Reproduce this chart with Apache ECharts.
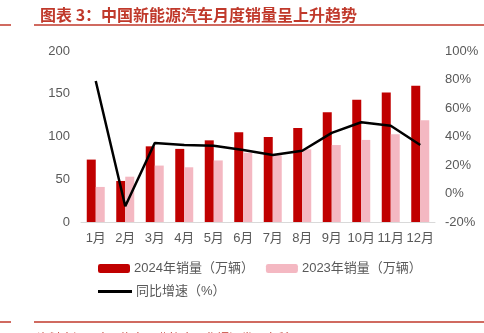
<!DOCTYPE html>
<html><head><meta charset="utf-8">
<script src="https://cdn.jsdelivr.net/npm/echarts@6/dist/echarts.min.js"></script>
<style>html,body{margin:0;padding:0;background:#fff;}#c{width:484px;height:333px;}</style>
</head><body><div id="c"></div>
<script>
const categories = ['1月','2月','3月','4月','5月','6月','7月','8月','9月','10月','11月','12月'];
const sales2024 = [73, 48, 88.5, 85.5, 95.5, 105, 99.5, 110, 128.5, 143, 151.5, 159.5];
const sales2023 = [41, 53, 66, 64, 72, 81, 78, 85, 90, 96, 102.5, 119];
const growth = [79, -9, 35.5, 34, 33.5, 30.5, 27, 30, 42.5, 50, 47.5, 34];
const leftTicks = {min: 0, max: 200, interval: 50};
const rightTicks = {min: -20, max: 100, interval: 20};

const FONT = "'Liberation Sans','Noto Sans CJK SC',sans-serif";
const chart = echarts.init(document.getElementById('c'));
const red = '#C0392B';
chart.setOption({
  animation: false,
  textStyle: {fontFamily: FONT},
  title: {
    text: '图表 3：中国新能源汽车月度销量呈上升趋势',
    left: 35, top: 2,
    textStyle: {fontSize: 16, fontWeight: 'bold', color: red, fontFamily: "'Noto Sans CJK SC',sans-serif"}
  },
  graphic: [
    {type: 'line', shape: {x1: 0, y1: 25, x2: 11, y2: 25}, style: {stroke: red, lineWidth: 1.5}},
    {type: 'line', shape: {x1: 34, y1: 25, x2: 484, y2: 25}, style: {stroke: red, lineWidth: 1.5}},
    {type: 'line', shape: {x1: 0, y1: 322, x2: 11, y2: 322}, style: {stroke: red, lineWidth: 1.5}},
    {type: 'line', shape: {x1: 34, y1: 322, x2: 484, y2: 322}, style: {stroke: red, lineWidth: 1.5}},
    {type: 'text', left: 37, top: 332, style: {text: '资料来源：中国汽车工业协会，华福证券研究所', fill: red, font: "12px 'Noto Sans CJK SC'"}}
  ],
  grid: {left: 81, right: 49, top: 51, bottom: 111},
  legend: [
    {
      data: ['2024年销量（万辆）', '2023年销量（万辆）'],
      left: 93, top: 257, itemWidth: 32, itemHeight: 9, itemGap: 12,
      textStyle: {fontSize: 13, color: '#595959', padding: [0, 0, 0, -1]}
    },
    {
      data: [{name: '同比增速（%）', icon: 'rect'}],
      left: 93, top: 280, itemWidth: 34, itemHeight: 3,
      textStyle: {fontSize: 13, color: '#595959', padding: [0, 0, 0, -1]}
    }
  ],
  xAxis: {
    type: 'category', data: categories,
    axisLine: {lineStyle: {color: '#D9D9D9', width: 1}},
    axisTick: {show: false},
    axisLabel: {color: '#595959', fontSize: 13, margin: 10, interval: 0}
  },
  yAxis: [
    {
      type: 'value', min: leftTicks.min, max: leftTicks.max, interval: leftTicks.interval,
      splitLine: {show: false}, axisLine: {show: false}, axisTick: {show: false},
      axisLabel: {color: '#595959', fontSize: 13, margin: 11}
    },
    {
      type: 'value', min: rightTicks.min, max: rightTicks.max, interval: rightTicks.interval,
      splitLine: {show: false}, axisLine: {show: false}, axisTick: {show: false},
      axisLabel: {color: '#595959', fontSize: 13, margin: 10, formatter: '{value}%'}
    }
  ],
  series: [
    {name: '2024年销量（万辆）', type: 'bar', data: sales2024, barWidth: 9, barGap: '0%', itemStyle: {color: '#C00000'}},
    {name: '2023年销量（万辆）', type: 'bar', data: sales2023, barWidth: 9, itemStyle: {color: '#F4B8C2'}},
    {name: '同比增速（%）', type: 'line', yAxisIndex: 1, data: growth, symbol: 'none',
     lineStyle: {color: '#000000', width: 2.5}, itemStyle: {color: '#000000'}}
  ]
});
</script></body></html>
